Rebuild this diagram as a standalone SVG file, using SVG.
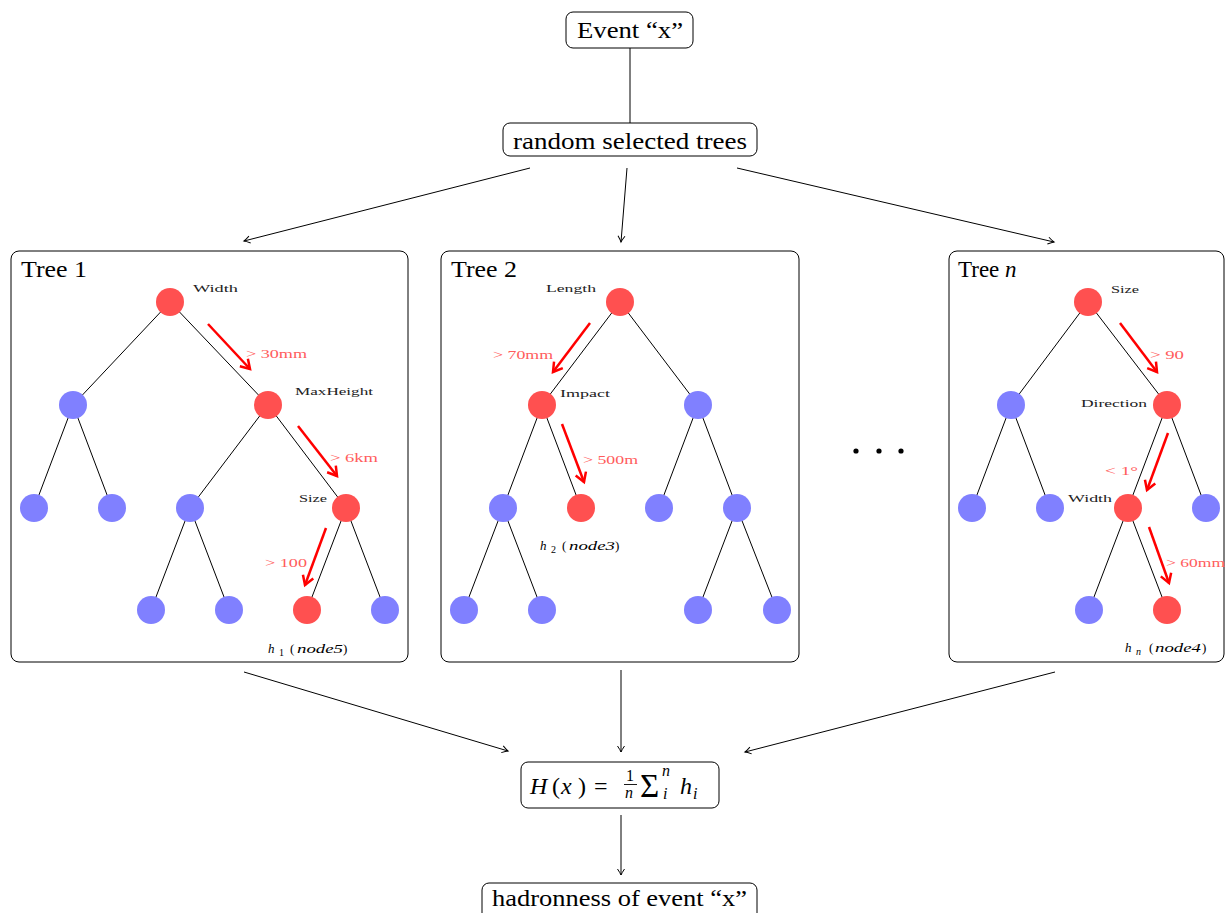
<svg xmlns="http://www.w3.org/2000/svg" width="1225" height="913" viewBox="0 0 1225 913">
<style>
.box{fill:#fff;stroke:#000;stroke-width:1}
.big{font-family:"Liberation Serif",serif;font-size:24px;fill:#000}
.title{font-family:"Liberation Serif",serif;font-size:23px;fill:#000}
.lbl{font-family:"Liberation Serif",serif;font-size:11px;fill:#222}
.rl{font-family:"Liberation Serif",serif;font-size:12.5px;fill:#ff5c5c}
.m{font-family:"Liberation Serif",serif;fill:#000}
.it{font-style:italic}
.edge{stroke:#000;stroke-width:1;fill:none}
.conn{stroke:#000;stroke-width:1;fill:none}
.arr{marker-end:url(#ah)}
.red{stroke:#ff0000;stroke-width:2.5;fill:none;marker-end:url(#rh)}
.r{fill:#ff5050}
.b{fill:#8080ff}
</style>
<defs>
<marker id="ah" markerUnits="userSpaceOnUse" markerWidth="12" markerHeight="10" viewBox="-8 -5 10 10" refX="0" refY="0" orient="auto">
<path d="M-6,-3.5 Q-2,-0.8 0,0 Q-2,0.8 -6,3.5" fill="none" stroke="#000" stroke-width="1"/>
</marker>
<marker id="rh" markerUnits="userSpaceOnUse" markerWidth="16" markerHeight="16" viewBox="-12 -8 14 16" refX="0" refY="0" orient="auto">
<path d="M-9,-5.5 L0,0 L-9,5.5" fill="none" stroke="#ff0000" stroke-width="2.5"/>
</marker>
</defs>
<rect width="1225" height="913" fill="#fff"/>

<g id="connectors">
<line class="conn" x1="630" y1="48" x2="630" y2="123"/>
<line class="conn arr" x1="530" y1="168" x2="244" y2="241"/>
<line class="conn arr" x1="627" y1="168" x2="621" y2="242"/>
<line class="conn arr" x1="737" y1="168" x2="1054" y2="242"/>
<line class="conn arr" x1="244" y1="672" x2="508" y2="751"/>
<line class="conn arr" x1="621" y1="670" x2="621" y2="752"/>
<line class="conn arr" x1="1055" y1="672" x2="745" y2="752"/>
<line class="conn arr" x1="621" y1="815" x2="621" y2="875"/>
</g>

<g id="event">
<rect class="box" x="566" y="12" width="127" height="36" rx="7"/>
<text class="big" x="577" y="38" textLength="106" lengthAdjust="spacingAndGlyphs">Event “x”</text>
</g>
<g id="random">
<rect class="box" x="503" y="123" width="254" height="33" rx="7"/>
<text class="big" x="513" y="149" textLength="234" lengthAdjust="spacingAndGlyphs">random selected trees</text>
</g>

<g id="tree1">
<rect class="box" x="11" y="251" width="397" height="411" rx="8"/>
<text class="title" x="21" y="277" textLength="66" lengthAdjust="spacingAndGlyphs">Tree 1</text>
<g class="edge">
<line x1="170" y1="302" x2="73" y2="405"/><line x1="170" y1="302" x2="268" y2="405"/>
<line x1="73" y1="405" x2="34" y2="508"/><line x1="73" y1="405" x2="112" y2="508"/>
<line x1="268" y1="405" x2="190" y2="508"/><line x1="268" y1="405" x2="346" y2="508"/>
<line x1="190" y1="508" x2="151" y2="610"/><line x1="190" y1="508" x2="229" y2="610"/>
<line x1="346" y1="508" x2="307" y2="610"/><line x1="346" y1="508" x2="385" y2="610"/>
</g>
<circle id="t1n1" class="r" cx="170" cy="302" r="14"/>
<circle id="t1n2" class="b" cx="73" cy="405" r="14"/>
<circle id="t1n3" class="r" cx="268" cy="405" r="14"/>
<circle id="t1n4" class="b" cx="34" cy="508" r="14"/>
<circle id="t1n5" class="b" cx="112" cy="508" r="14"/>
<circle id="t1n6" class="b" cx="190" cy="508" r="14"/>
<circle id="t1n7" class="r" cx="346" cy="508" r="14"/>
<circle id="t1n8" class="b" cx="151" cy="610" r="14"/>
<circle id="t1n9" class="b" cx="229" cy="610" r="14"/>
<circle id="t1n10" class="r" cx="307" cy="610" r="14"/>
<circle id="t1n11" class="b" cx="385" cy="610" r="14"/>
<line class="red" x1="208" y1="324" x2="250" y2="369"/>
<line class="red" x1="298" y1="426" x2="337" y2="476"/>
<line class="red" x1="326" y1="528" x2="305" y2="585"/>
<text class="lbl" x="193" y="292" textLength="45" lengthAdjust="spacingAndGlyphs">Width</text>
<text class="rl" x="246" y="358" textLength="61" lengthAdjust="spacingAndGlyphs">&gt; 30mm</text>
<text class="lbl" x="295" y="395" textLength="78" lengthAdjust="spacingAndGlyphs">MaxHeight</text>
<text class="rl" x="330" y="462" textLength="48" lengthAdjust="spacingAndGlyphs">&gt; 6km</text>
<text class="lbl" x="299" y="502" textLength="28" lengthAdjust="spacingAndGlyphs">Size</text>
<text class="rl" x="265" y="567" textLength="42" lengthAdjust="spacingAndGlyphs">&gt; 100</text>
<text class="m" y="653" font-size="13"><tspan class="it" x="268">h</tspan><tspan x="279" y="656" font-size="10">1</tspan><tspan x="290" y="653">(</tspan><tspan class="it" x="297" textLength="46" lengthAdjust="spacingAndGlyphs">node5</tspan><tspan x="343">)</tspan></text>
</g>

<g id="tree2">
<rect class="box" x="441" y="251" width="358" height="411" rx="8"/>
<text class="title" x="451" y="277" textLength="66" lengthAdjust="spacingAndGlyphs">Tree 2</text>
<g class="edge">
<line x1="620" y1="302" x2="542" y2="405"/><line x1="620" y1="302" x2="698" y2="405"/>
<line x1="542" y1="405" x2="503" y2="508"/><line x1="542" y1="405" x2="581" y2="508"/>
<line x1="698" y1="405" x2="659" y2="508"/><line x1="698" y1="405" x2="737" y2="508"/>
<line x1="503" y1="508" x2="464" y2="610"/><line x1="503" y1="508" x2="542" y2="610"/>
<line x1="737" y1="508" x2="698" y2="610"/><line x1="737" y1="508" x2="777" y2="610"/>
</g>
<circle id="t2n1" class="r" cx="620" cy="302" r="14"/>
<circle id="t2n2" class="r" cx="542" cy="405" r="14"/>
<circle id="t2n3" class="b" cx="698" cy="405" r="14"/>
<circle id="t2n4" class="b" cx="503" cy="508" r="14"/>
<circle id="t2n5" class="r" cx="581" cy="508" r="14"/>
<circle id="t2n6" class="b" cx="659" cy="508" r="14"/>
<circle id="t2n7" class="b" cx="737" cy="508" r="14"/>
<circle id="t2n8" class="b" cx="464" cy="610" r="14"/>
<circle id="t2n9" class="b" cx="542" cy="610" r="14"/>
<circle id="t2n10" class="b" cx="698" cy="610" r="14"/>
<circle id="t2n11" class="b" cx="777" cy="610" r="14"/>
<line class="red" x1="590" y1="323" x2="553" y2="372"/>
<line class="red" x1="562" y1="424" x2="584" y2="482"/>
<text class="lbl" x="546" y="292" textLength="50" lengthAdjust="spacingAndGlyphs">Length</text>
<text class="rl" x="493" y="359" textLength="60" lengthAdjust="spacingAndGlyphs">&gt; 70mm</text>
<text class="lbl" x="560" y="397" textLength="50" lengthAdjust="spacingAndGlyphs">Impact</text>
<text class="rl" x="583" y="464" textLength="55" lengthAdjust="spacingAndGlyphs">&gt; 500m</text>
<text class="m" y="550" font-size="13"><tspan class="it" x="540">h</tspan><tspan x="551" y="553" font-size="10">2</tspan><tspan x="562" y="550">(</tspan><tspan class="it" x="569" textLength="46" lengthAdjust="spacingAndGlyphs">node3</tspan><tspan x="615">)</tspan></text>
</g>

<g id="dots">
<circle cx="856" cy="451" r="2.6" fill="#000"/>
<circle cx="879" cy="451" r="2.6" fill="#000"/>
<circle cx="901" cy="451" r="2.6" fill="#000"/>
</g>

<g id="treen">
<rect class="box" x="949" y="251" width="275" height="411" rx="8"/>
<text class="title" x="958" y="277">Tree <tspan class="it">n</tspan></text>
<g class="edge">
<line x1="1088" y1="302" x2="1011" y2="405"/><line x1="1088" y1="302" x2="1167" y2="405"/>
<line x1="1011" y1="405" x2="972" y2="508"/><line x1="1011" y1="405" x2="1050" y2="508"/>
<line x1="1167" y1="405" x2="1128" y2="508"/><line x1="1167" y1="405" x2="1206" y2="508"/>
<line x1="1128" y1="508" x2="1089" y2="610"/><line x1="1128" y1="508" x2="1167" y2="610"/>
</g>
<circle id="tnn1" class="r" cx="1088" cy="302" r="14"/>
<circle id="tnn2" class="b" cx="1011" cy="405" r="14"/>
<circle id="tnn3" class="r" cx="1167" cy="405" r="14"/>
<circle id="tnn4" class="b" cx="972" cy="508" r="14"/>
<circle id="tnn5" class="b" cx="1050" cy="508" r="14"/>
<circle id="tnn6" class="r" cx="1128" cy="508" r="14"/>
<circle id="tnn7" class="b" cx="1206" cy="508" r="14"/>
<circle id="tnn8" class="b" cx="1089" cy="610" r="14"/>
<circle id="tnn9" class="r" cx="1167" cy="610" r="14"/>
<line class="red" x1="1120" y1="323" x2="1157" y2="372"/>
<line class="red" x1="1168" y1="433" x2="1147" y2="490"/>
<line class="red" x1="1149" y1="527" x2="1169" y2="583"/>
<text class="lbl" x="1111" y="293" textLength="28" lengthAdjust="spacingAndGlyphs">Size</text>
<text class="rl" x="1150" y="359" textLength="34" lengthAdjust="spacingAndGlyphs">&gt; 90</text>
<text class="lbl" x="1081" y="407" textLength="66" lengthAdjust="spacingAndGlyphs">Direction</text>
<text class="rl" x="1105" y="475" textLength="33" lengthAdjust="spacingAndGlyphs">&lt; 1°</text>
<text class="lbl" x="1068" y="502" textLength="44" lengthAdjust="spacingAndGlyphs">Width</text>
<text class="rl" x="1166" y="567" textLength="59" lengthAdjust="spacingAndGlyphs">&gt; 60mm</text>
<text class="m" y="652" font-size="13"><tspan class="it" x="1125">h</tspan><tspan class="it" x="1136" y="655" font-size="10">n</tspan><tspan x="1149" y="652">(</tspan><tspan class="it" x="1155" textLength="46" lengthAdjust="spacingAndGlyphs">node4</tspan><tspan x="1202">)</tspan></text>
</g>

<g id="hx">
<rect class="box" x="521" y="762" width="198" height="46" rx="7"/>
<text class="m" font-size="24" y="794"><tspan class="it" x="530">H</tspan><tspan x="552">(</tspan><tspan class="it" x="561">x</tspan><tspan x="578">)</tspan><tspan x="594">=</tspan></text>
<text class="m" font-size="16" x="626" y="781">1</text>
<line x1="624" y1="784.5" x2="637" y2="784.5" stroke="#000" stroke-width="0.9"/>
<text class="m it" font-size="16" x="625" y="798">n</text>
<text class="m" font-size="33" x="640" y="797">Σ</text>
<text class="m it" font-size="16" x="662" y="776">n</text>
<text class="m it" font-size="16" x="663" y="799">i</text>
<text class="m it" font-size="24" x="680" y="794">h</text>
<text class="m it" font-size="16" x="693" y="799">i</text>
</g>

<g id="hadronness">
<rect class="box" x="482" y="883" width="275" height="40" rx="7"/>
<text class="big" x="492" y="906" textLength="255" lengthAdjust="spacingAndGlyphs">hadronness of event “x”</text>
</g>
</svg>
